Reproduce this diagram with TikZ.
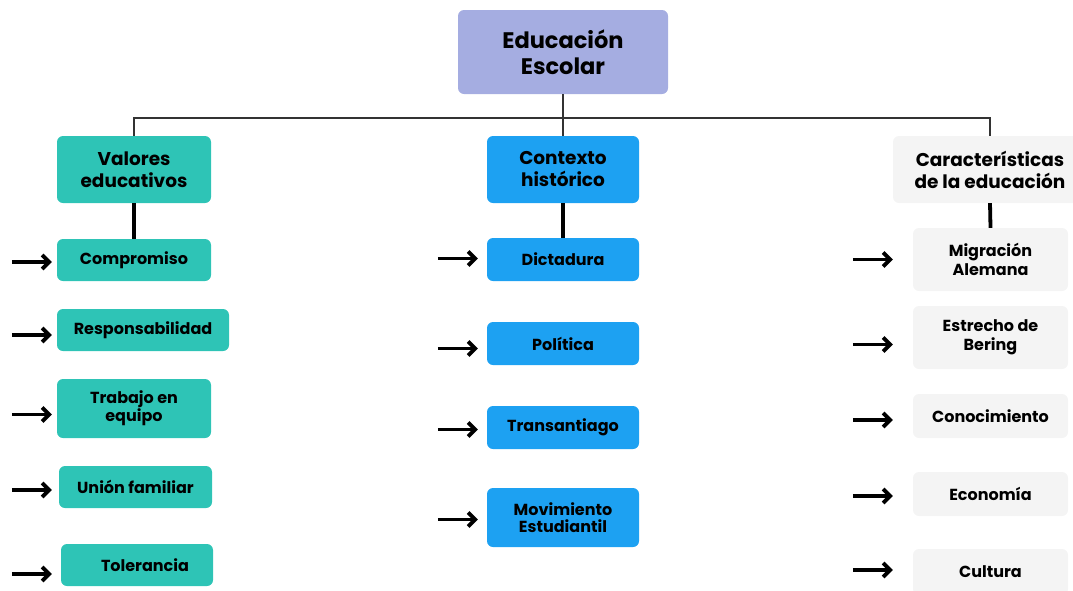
\documentclass[tikz,border=0pt]{standalone}
\usepackage{fontspec}
\setmainfont{Poppins}
\usetikzlibrary{arrows.meta}
\definecolor{lavender}{HTML}{A5ADE1}
\definecolor{teal}{HTML}{2EC4B6}
\definecolor{sky}{HTML}{1DA1F2}
\definecolor{paper}{HTML}{F4F4F4}
\tikzset{
  box/.style = {rounded corners=6pt, align=center, inner sep=0pt,
    font=\bfseries\fontsize{16}{17}\selectfont},
  head/.style = {box, minimum height=67pt,
    font=\bfseries\fontsize{18.5}{22}\selectfont},
  tree/.style = {draw=black!80, line width=1.6pt},
  stem/.style = {draw=black, line width=3.8pt},
  arrow/.style = {line width=3.8pt, -{Straight Barb[length=7pt,width=14pt]}}
}

\begin{document}
\begin{tikzpicture}[x=1pt,y=-1pt]
    \useasboundingbox (0,0) rectangle (1073,590);
    % root
    \node[box,fill=lavender,minimum width=210pt,minimum height=84pt,
      font=\bfseries\fontsize{22.5}{26}\selectfont] (root) at (563,52) {Educación\\Escolar};
    % columns
    \node[head,fill=teal,minimum width=154pt] (val) at (134,169.5) {Valores\\educativos};
    \node[head,fill=sky,minimum width=152pt] (ctx) at (563,169.5) {Contexto\\histórico};
    \node[head,fill=paper,minimum width=194pt] (car) at (990,169.5) {Características\\de la educación};
    % valores educativos
    \node[box,fill=teal,minimum width=154pt,minimum height=42pt] (comp) at (134,260) {Compromiso};
    \node[box,fill=teal,minimum width=172pt,minimum height=42pt] (resp) at (143,330) {Responsabilidad};
    \node[box,fill=teal,minimum width=154pt,minimum height=59pt] (trab) at (134,408.5) {Trabajo en\\equipo};
    \node[box,fill=teal,minimum width=153pt,minimum height=42pt] (union) at (135.5,487) {Unión familiar};
    \node[box,fill=teal,minimum width=152pt,minimum height=42pt] (tol) at (137,565) {\hspace*{16pt}Tolerancia};
    % contexto historico
    \node[box,fill=sky,minimum width=152pt,minimum height=43pt] (dict) at (563,259.5) {Dictadura};
    \node[box,fill=sky,minimum width=152pt,minimum height=43pt] (pol) at (563,343.5) {Política};
    \node[box,fill=sky,minimum width=152pt,minimum height=43pt] (trans) at (563,427.5) {Transantiago};
    \node[box,fill=sky,minimum width=152pt,minimum height=59pt] (mov) at (563,517.5) {Movimiento\\Estudiantil};
    % caracteristicas
    \node[box,fill=paper,minimum width=155pt,minimum height=63pt,
      font=\bfseries\fontsize{16}{19.5}\selectfont] (mig) at (990.5,259.5) {Migración\\Alemana};
    \node[box,fill=paper,minimum width=155pt,minimum height=63pt,
      font=\bfseries\fontsize{16}{19.5}\selectfont] (est) at (990.5,337.5) {Estrecho de\\Bering};
    \node[box,fill=paper,minimum width=155pt,minimum height=44pt] (con) at (990.5,416) {Conocimiento};
    \node[box,fill=paper,minimum width=155pt,minimum height=44pt] (eco) at (990.5,494) {Economía};
    \node[box,fill=paper,minimum width=155pt,minimum height=46pt] (cul) at (990.5,572) {Cultura};
    % tree
    \coordinate (bus) at (563,118);
    \draw[tree] (root.south) -- (ctx.north);
    \draw[tree] (val.north) |- (bus) -| (car.north);
    \draw[stem] (val.south) -- (comp.north);
    \draw[stem] (ctx.south) -- (dict.north);
    \draw[stem] (car.south) -- (mig.north);
    % arrows
    \foreach \n/\dx/\dy in {comp/5/2, resp/5/5, trab/5/6, union/7/3, tol/9/9,
                            dict/9/-1, pol/9/5, trans/9/2, mov/9/2,
                            mig/20/0, est/20/7, con/20/4, eco/20/2, cul/20/-2}
      \draw[arrow] ([shift={(-\dx-40,\dy)}]\n.west) -- ([shift={(-\dx,\dy)}]\n.west);
\end{tikzpicture}
\end{document}
